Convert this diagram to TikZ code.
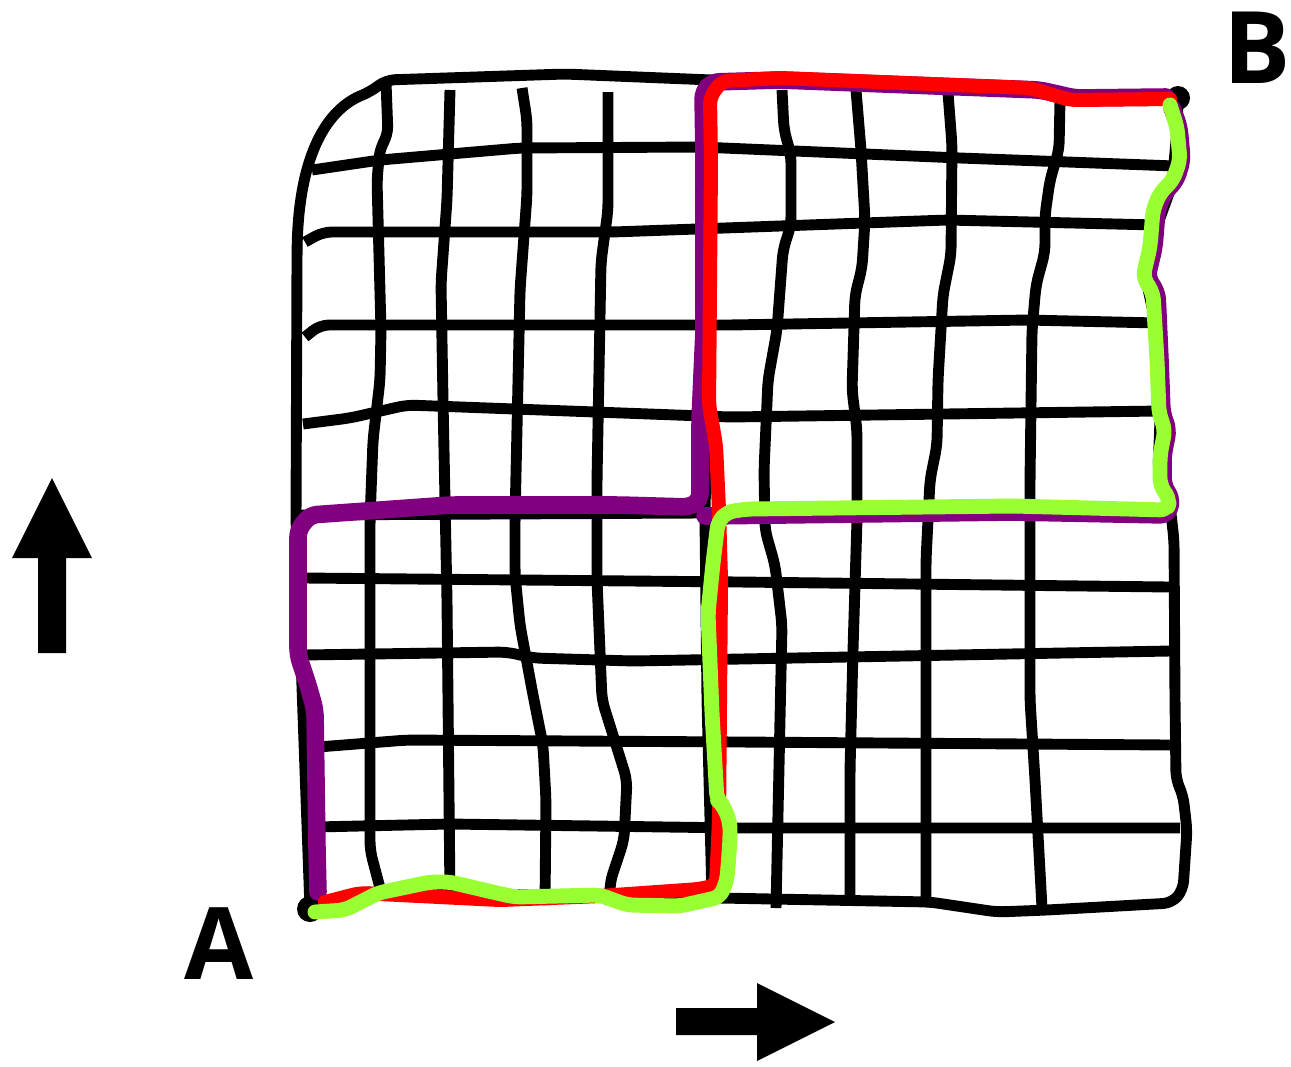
\documentclass[tikz,border=0pt]{standalone}
\usepackage{fontspec}
\setsansfont{Open Sans}
\usepackage{tikz}
\usetikzlibrary{positioning}
\definecolor{routepurple}{RGB}{128,0,128}
\definecolor{routered}{RGB}{255,0,0}
\definecolor{routegreen}{RGB}{154,255,50}

\begin{document}
\begin{tikzpicture}[
    x=0.02cm, y=-0.02cm,
    gridline/.style={draw=black,line width=6.2pt,line join=round,rounded corners=5pt},
    route/.style={line width=#1,line cap=round,line join=round,rounded corners=4pt},
    corner/.style={font=\sffamily\bfseries\fontsize{57}{60}\selectfont,inner sep=0pt},
    bigarrow/.style={fill=black}
]
    \useasboundingbox (0,0) rectangle (1291,1066);
    \coordinate (pA) at (310,909);
    \coordinate (pB) at (1178,98);

    % frame
    \draw[gridline] (pA) -- (296,520) -- (297,260) .. controls (298,150) and (330,108) .. (370,92)
        -- (386,80) -- (565,74) -- (712,80) -- (1030,88) -- (1070,97) -- (pB) -- (1177,130)
        -- (1172,185) -- (1152,240) -- (1146,280) -- (1157,330) -- (1160,420) -- (1158,470)
        -- (1170,505) -- (1174,540) -- (1175,700) -- (1176,780) -- (1183,795) -- (1187,830)
        -- (1183,890) -- (1172,903) -- (1047,910) -- (997,912) -- (930,902) -- (720,898)
        -- (360,892) -- cycle;

    % rows
    \draw[gridline] (312,170) -- (380,160) -- (520,148) -- (700,147) -- (960,158) -- (1175,166);
    \draw[gridline] (305,242) -- (323,232) -- (613,232) -- (947,220) -- (1157,225);
    \draw[gridline] (305,337) -- (320,325) -- (730,325) -- (1027,320) -- (1158,323);
    \draw[gridline] (303,424) -- (350,418) -- (407,405) -- (730,417) -- (1160,411);
    \draw[gridline] (296,515) -- (700,513) -- (1170,516);
    \draw[gridline] (305,578) -- (740,582) -- (1170,587);
    \draw[gridline] (303,655) -- (507,652) -- (533,658) -- (633,661) -- (1170,651);
    \draw[gridline] (318,747) -- (407,740) -- (740,742) -- (1170,745);
    \draw[gridline] (315,827) -- (450,824) -- (740,828) -- (1180,828);

    % columns
    \draw[gridline] (386,82) -- (388,135) -- (380,148) -- (377,180) -- (381,330) -- (380,380)
        -- (373,440) -- (370,520) -- (370,850) -- (380,888);
    \draw[gridline] (450,90) -- (447,200) -- (441,283) -- (443,400) -- (447,600) -- (450,897);
    \draw[gridline] (522,88) -- (527,120) -- (527,195) -- (520,290) -- (515,520) -- (515,575)
        -- (520,625) -- (533,695) -- (543,745) -- (546,800) -- (545,905);
    \draw[gridline] (608,92) -- (608,210) -- (601,262) -- (597,480) -- (597,580) -- (602,700)
        -- (627,780) -- (624,840) -- (610,882) -- (610,905);
    \draw[gridline] (706,82) -- (708,300) -- (705,520) -- (707,700) -- (712,898);
    \draw[gridline] (782,90) -- (784,130) -- (791,155) -- (791,225) -- (783,250) -- (777,330)
        -- (768,380) -- (764,470) -- (765,530) -- (775,565) -- (782,625) -- (776,908);
    \draw[gridline] (856,90) -- (861,150) -- (865,220) -- (862,268) -- (855,295) -- (852,390)
        -- (857,430) -- (857,520) -- (853,650) -- (850,770) -- (850,897);
    \draw[gridline] (948,93) -- (952,145) -- (951,255) -- (943,295) -- (938,380) -- (937,445)
        -- (930,480) -- (926,560) -- (926,900);
    \draw[gridline] (1060,100) -- (1059,150) -- (1050,180) -- (1045,215) -- (1045,252)
        -- (1036,285) -- (1032,330) -- (1030,480) -- (1030,700) -- (1035,780) -- (1042,908);

    \fill (pA) circle (13);
    \fill (pB) circle (12);

    % routes
    \draw[route=10pt,routepurple] (318,892) -- (317,850) -- (315,710) -- (308,685)
        -- (298,655) -- (298,530) -- (310,515) -- (380,510) -- (450,505) -- (620,505)
        -- (690,507) -- (700,500) -- (700,420) -- (704,330) -- (704,160) -- (703,92)
        -- (712,82) -- (780,80) -- (1040,90) -- (1075,98) -- (1166,97);
    \draw[route=10pt,routepurple] (705,516) -- (1013,512) -- (1167,515) -- (1172,500)
        -- (1163,485) -- (1163,455) -- (1168,430) -- (1162,413) -- (1160,360) -- (1157,293)
        -- (1147,277) -- (1154,247) -- (1157,210) -- (1164,193) -- (1176,180) -- (1182,160)
        -- (1179,127) -- (1172,108);
    \draw[route=8pt,routered] (325,902) -- (360,893) -- (500,900) -- (600,896) -- (700,889)
        -- (716,885) -- (719,820) -- (721,580) -- (719,510) -- (716,445) -- (709,405)
        -- (711,160) -- (710,97) -- (722,81) -- (780,78) -- (1030,88) -- (1070,100) -- (1170,99);
    \draw[route=8.5pt,routegreen] (315,912) -- (345,910) -- (378,893) -- (430,882) -- (450,882)
        -- (497,893) -- (515,897) -- (600,895) -- (627,905) -- (680,906) -- (720,897)
        -- (727,880) -- (730,840) -- (730,822) -- (723,805) -- (717,800) -- (712,713)
        -- (708,613) -- (713,563) -- (718,522) -- (727,512) -- (747,509) -- (1013,506)
        -- (1167,510) -- (1170,500) -- (1160,485) -- (1160,455) -- (1165,430) -- (1159,413)
        -- (1157,360) -- (1153,293) -- (1143,277) -- (1150,247) -- (1153,210) -- (1160,193)
        -- (1173,180) -- (1180,160) -- (1177,127) -- (1170,105);

    \node[corner] (labA) at (219,944) {A};
    \node[corner] (labB) at (1257,48) {B};

    % direction arrows
    \fill[bigarrow] (38,653) -- (38,558) -- (12,558) -- (52,478) -- (92,558) -- (66,558)
        -- (66,653) -- cycle;
    \fill[bigarrow] (676,1008) -- (757,1008) -- (757,983) -- (835,1022) -- (757,1061)
        -- (757,1035) -- (676,1035) -- cycle;
\end{tikzpicture}
\end{document}
